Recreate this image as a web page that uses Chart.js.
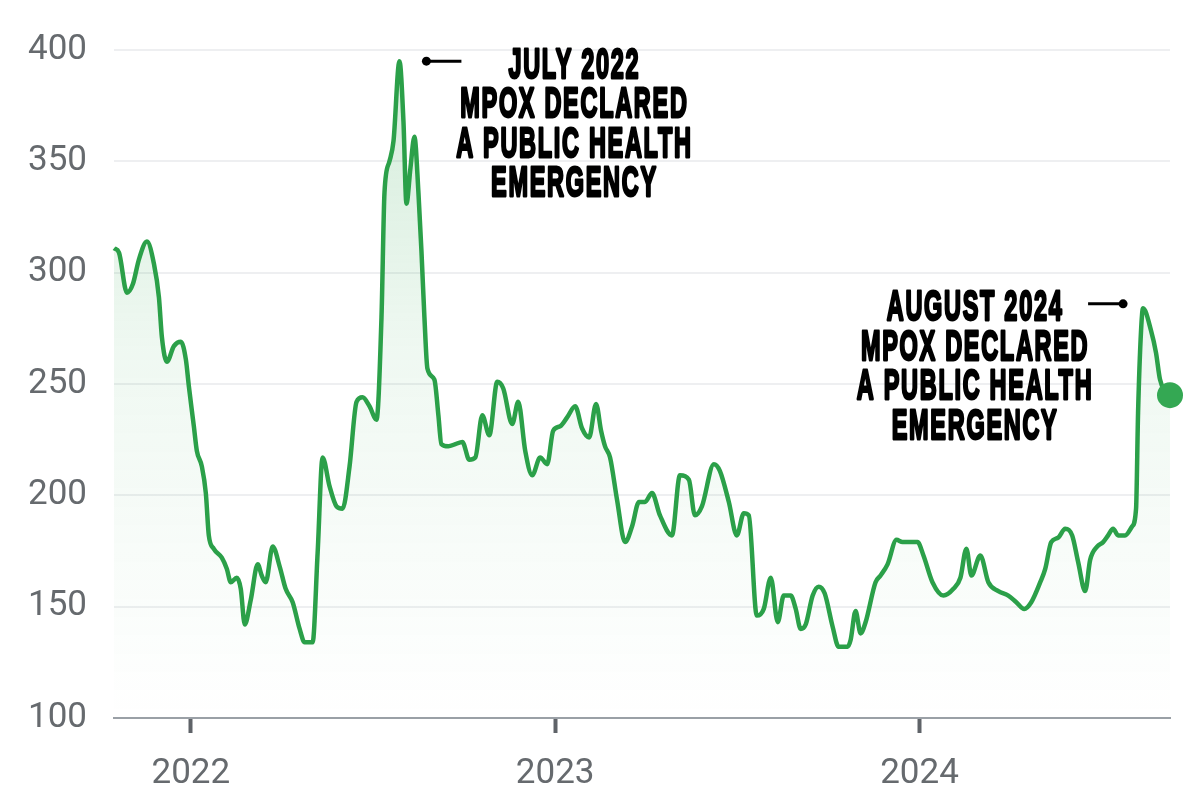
<!DOCTYPE html>
<html lang="en">
<head>
    <meta charset="UTF-8">
    <title>Mpox search interest</title>
    <script src="https://cdn.jsdelivr.net/npm/chart.js"></script>
    <style>
        html, body { margin: 0; padding: 0; background: #fff; }
        #wrap { width: 1200px; height: 800px; }
    </style>
</head>
<body>
    <div id="wrap">
        <canvas id="trendChart" width="1200" height="800"></canvas>
    </div>

    <script>
        // values (dates of the line's turning points)
        const dates = [
            '2021-10-16','2021-10-21','2021-10-29','2021-11-04','2021-11-10','2021-11-18','2021-11-25','2021-11-30',
            '2021-12-03','2021-12-08','2021-12-15','2021-12-22','2021-12-27','2021-12-30','2022-01-04','2022-01-07',
            '2022-01-12','2022-01-16','2022-01-19','2022-01-24','2022-02-01','2022-02-06','2022-02-10','2022-02-16',
            '2022-02-20','2022-02-24','2022-03-02','2022-03-09','2022-03-13','2022-03-17','2022-03-24','2022-03-31',
            '2022-04-06','2022-04-13','2022-04-20','2022-04-25','2022-05-03','2022-05-08','2022-05-13','2022-05-20',
            '2022-05-27','2022-06-02','2022-06-09','2022-06-16','2022-06-22','2022-06-29','2022-07-06','2022-07-11',
            '2022-07-14','2022-07-19','2022-07-23','2022-07-29','2022-08-02','2022-08-05','2022-08-09','2022-08-13',
            '2022-08-17','2022-08-20','2022-08-23','2022-08-26','2022-09-02','2022-09-06','2022-09-09','2022-09-16',
            '2022-09-23','2022-09-30','2022-10-07','2022-10-13','2022-10-20','2022-10-27','2022-11-04','2022-11-10',
            '2022-11-19','2022-11-25','2022-12-02','2022-12-09','2022-12-17','2022-12-24','2022-12-30','2023-01-06',
            '2023-01-13','2023-01-21','2023-01-28','2023-02-04','2023-02-11','2023-02-16','2023-02-20','2023-02-25',
            '2023-03-04','2023-03-12','2023-03-19','2023-03-26','2023-04-01','2023-04-08','2023-04-16','2023-04-28',
            '2023-05-06','2023-05-15','2023-05-21','2023-05-28','2023-06-09','2023-06-15','2023-06-24','2023-07-02',
            '2023-07-09','2023-07-14','2023-07-22','2023-07-29','2023-08-05','2023-08-12','2023-08-18','2023-08-25',
            '2023-08-30','2023-09-04','2023-09-09','2023-09-16','2023-09-22','2023-09-28','2023-10-06','2023-10-12',
            '2023-10-21','2023-10-24','2023-10-29','2023-11-03','2023-11-08','2023-11-18','2023-11-23','2023-11-30',
            '2023-12-09','2023-12-15','2023-12-30','2024-01-05','2024-01-14','2024-01-25','2024-02-04','2024-02-11',
            '2024-02-17','2024-02-22','2024-03-02','2024-03-10','2024-03-20','2024-03-30','2024-04-07','2024-04-15',
            '2024-04-22','2024-05-01','2024-05-06','2024-05-12','2024-05-19','2024-05-26','2024-06-02','2024-06-08',
            '2024-06-15','2024-06-20','2024-06-27','2024-07-03','2024-07-08','2024-07-13','2024-07-18','2024-07-25',
            '2024-08-01','2024-08-05','2024-08-07','2024-08-10','2024-08-12','2024-08-20','2024-08-25','2024-08-29',
            '2024-09-08'
        ];
        const values = [
            311, 309, 291, 295, 306, 314, 304, 289,
            271, 260, 267, 269, 261, 249, 231, 220,
            213, 201, 182, 176, 172, 167, 161, 163,
            158, 142, 153, 169, 164, 161, 177, 168,
            158, 152, 140, 134, 134, 174, 217, 204,
            195, 194, 213, 242, 244, 240, 234, 280,
            336, 350, 359, 395, 368, 331, 347, 361,
            336, 310, 280, 257, 252, 236, 223, 222,
            223, 224, 216, 217, 236, 227, 251, 248,
            232, 242, 220, 209, 217, 214, 229, 231,
            235, 240, 230, 226, 241, 229, 222, 217,
            198, 179, 186, 197, 197, 201, 191, 182,
            209, 207, 191, 195, 214, 211, 197, 182,
            192, 191, 146, 149, 163, 143, 155, 155,
            149, 140, 142, 155, 159, 156, 141, 132,
            132, 135, 148, 138, 143, 161, 164, 169,
            180, 179, 179, 173, 161, 155, 158, 163,
            176, 164, 173, 161, 157, 155, 152, 149,
            152, 161, 167, 179, 181, 185, 182, 170,
            157, 171, 177, 179, 182, 185, 182, 182,
            186, 194, 237, 274, 284, 274, 264, 252,
            245
        ];
        const yearTicks = [2022, 2023, 2024];
        const yTicks = [100, 150, 200, 250, 300, 350, 400];

        const notes = [
            { date: '2022-08-25', value: 395, side: 1,
              lines: ['JULY 2022', 'MPOX DECLARED', 'A PUBLIC HEALTH', 'EMERGENCY'] },
            { date: '2024-07-23', value: 286, side: -1,
              lines: ['AUGUST 2024', 'MPOX DECLARED', 'A PUBLIC HEALTH', 'EMERGENCY'] }
        ];

        const GREEN = '#2ba049';

        // day number since epoch, so the x axis can be a plain linear scale
        function dayOf(s) {
            const p = s.split('-').map(Number);
            return Date.UTC(p[0], p[1] - 1, p[2]) / 86400000;
        }

        const points = dates.map((d, i) => ({ x: dayOf(d), y: values[i] }));

        // draws the two black callouts
        const calloutPlugin = {
            id: 'callouts',
            afterDraw(chart) {
                const ctx = chart.ctx;
                const xs = chart.scales.x, ys = chart.scales.y;
                ctx.save();
                notes.forEach(n => {
                    const px = xs.getPixelForValue(dayOf(n.date));
                    const py = ys.getPixelForValue(n.value);
                    ctx.fillStyle = '#000';
                    ctx.strokeStyle = '#000';
                    ctx.lineWidth = 3;
                    ctx.beginPath();
                    ctx.moveTo(px, py);
                    ctx.lineTo(px + n.side * 35, py);
                    ctx.stroke();
                    ctx.beginPath();
                    ctx.arc(px, py, 4.5, 0, Math.PI * 2);
                    ctx.fill();

                    const cx = px + n.side * 148;
                    ctx.font = 'bold 42px "Liberation Sans", Arial, sans-serif';
                    ctx.letterSpacing = '3px';
                    ctx.textAlign = 'center';
                    ctx.textBaseline = 'middle';
                    ctx.lineWidth = 2.8;
                    ctx.lineJoin = 'round';
                    n.lines.forEach((t, i) => {
                        ctx.save();
                        ctx.translate(cx, py + 5 + i * 39.5);
                        ctx.scale(0.56, 1);
                        ctx.fillText(t, 0, 0);
                        ctx.strokeText(t, 0, 0);
                        ctx.restore();
                    });
                });
                ctx.restore();
            }
        };

        const ctx = document.getElementById('trendChart').getContext('2d');
        new Chart(ctx, {
            type: 'line',
            data: {
                datasets: [{
                    data: points,
                    borderColor: GREEN,
                    borderWidth: 4.5,
                    cubicInterpolationMode: 'monotone',
                    fill: 'start',
                    backgroundColor: c => {
                        const a = c.chart.chartArea;
                        if (!a) return 'rgba(52,168,83,0.1)';
                        const g = c.chart.ctx.createLinearGradient(0, a.top, 0, a.bottom);
                        g.addColorStop(0, 'rgba(52,168,83,0.22)');
                        g.addColorStop(0.45, 'rgba(52,168,83,0.08)');
                        g.addColorStop(1, 'rgba(52,168,83,0)');
                        return g;
                    },
                    pointRadius: c => c.dataIndex === values.length - 1 ? 13 : 0,
                    pointBackgroundColor: '#34a853',
                    pointBorderWidth: 0,
                    pointHoverRadius: 0,
                    clip: false
                }]
            },
            plugins: [calloutPlugin],
            options: {
                responsive: false,
                animation: false,
                events: [],
                layout: { padding: { top: 50, right: 30, bottom: 0, left: 0 } },
                plugins: {
                    legend: { display: false },
                    tooltip: { enabled: false }
                },
                scales: {
                    x: {
                        type: 'linear',
                        min: dayOf(dates[0]),
                        max: dayOf(dates[dates.length - 1]),
                        afterBuildTicks: s => {
                            s.ticks = yearTicks.map(y => ({ value: dayOf(y + '-01-01') }));
                        },
                        afterFit: s => { s.height = 82; },
                        ticks: {
                            color: '#666a6e',
                            font: { family: 'Roboto', size: 35 },
                            padding: 20,
                            maxRotation: 0,
                            callback: v => String(new Date(v * 86400000).getUTCFullYear())
                        },
                        grid: {
                            drawOnChartArea: false,
                            drawTicks: true,
                            tickLength: 15,
                            tickWidth: 4,
                            tickColor: '#5f6368'
                        },
                        border: { display: true, color: '#9aa0a6', width: 2 }
                    },
                    y: {
                        min: 100,
                        max: 400,
                        afterBuildTicks: s => { s.ticks = yTicks.map(v => ({ value: v })); },
                        afterFit: s => { s.width = 114; },
                        ticks: {
                            color: '#666a6e',
                            font: { family: 'Roboto', size: 35 },
                            padding: 27
                        },
                        grid: { color: '#eeeff1', lineWidth: 2, drawTicks: false },
                        border: { display: false }
                    }
                }
            }
        });
    </script>
</body>
</html>
